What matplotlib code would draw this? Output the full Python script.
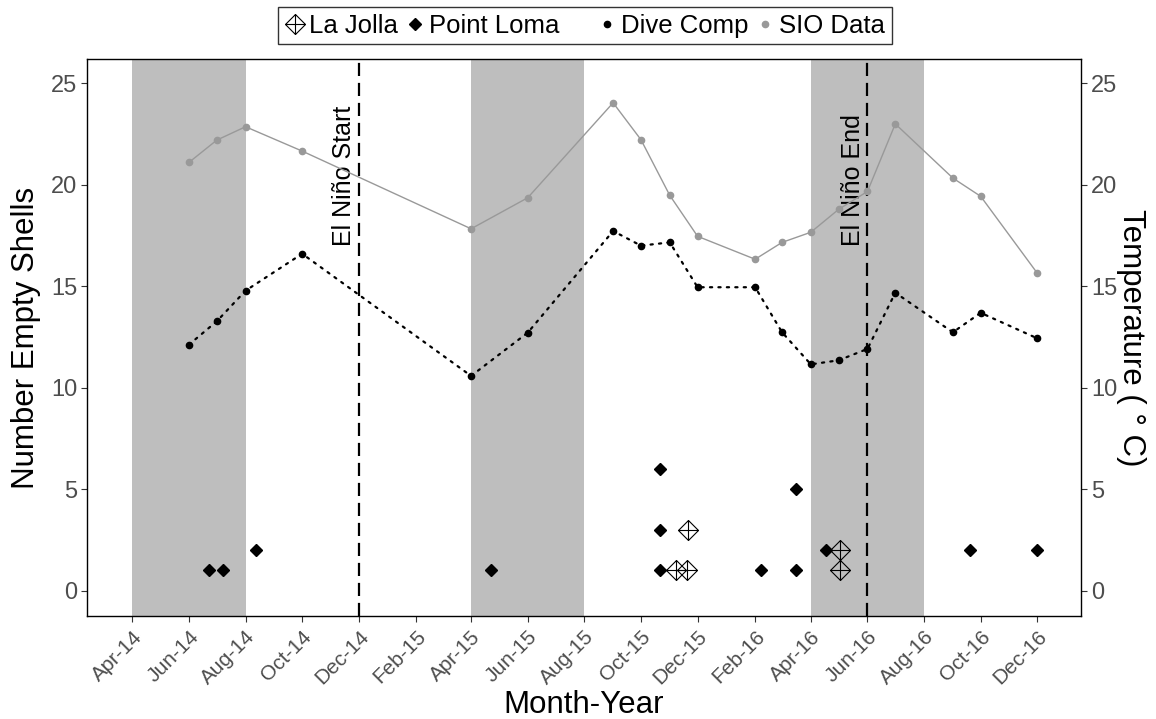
import numpy as np
import pandas as pd
import matplotlib
matplotlib.use("Agg")
import matplotlib.pyplot as plt
import matplotlib.dates as mdates
from matplotlib.path import Path
from matplotlib.lines import Line2D

plt.rcParams['font.family'] = ['Liberation Sans', 'DejaVu Sans']

# temperature series (monthly samples)
temp_dates = pd.to_datetime(['2014-06-01', '2014-07-01', '2014-08-01', '2014-10-01', '2015-04-01',
                             '2015-06-01', '2015-09-01', '2015-10-01', '2015-11-01', '2015-12-01',
                             '2016-02-01', '2016-03-01', '2016-04-01', '2016-05-01', '2016-06-01',
                             '2016-07-01', '2016-09-01', '2016-10-01', '2016-12-01'])
sio_temp = [21.10, 22.20, 22.86, 21.66, 17.83, 19.36, 24.04, 22.22, 19.48, 17.46,
            16.33, 17.16, 17.66, 18.79, 19.67, 23.00, 20.33, 19.43, 15.64]
dive_temp = [12.12, 13.27, 14.78, 16.60, 10.58, 12.71, 17.72, 17.00, 17.16, 14.95,
             14.95, 12.73, 11.15, 11.35, 11.91, 14.68, 12.73, 13.69, 12.43]

# empty shell counts
pl_dates = pd.to_datetime(['2014-06-23', '2014-07-08', '2014-08-12', '2015-04-22', '2015-10-22',
                           '2015-10-22', '2015-10-22', '2016-02-07', '2016-03-16', '2016-03-16',
                           '2016-04-17', '2016-09-19', '2016-12-01'])
pl_count = [1, 1, 2, 1, 6, 3, 1, 1, 5, 1, 2, 2, 2]
lj_dates = pd.to_datetime(['2015-11-08', '2015-11-20', '2015-11-21', '2016-05-02', '2016-05-02'])
lj_count = [1, 1, 3, 2, 1]

# shaded periods and El Nino markers
shade_start = pd.to_datetime(['2014-04-01', '2015-04-01', '2016-04-01'])
shade_end = pd.to_datetime(['2014-08-01', '2015-08-01', '2016-08-01'])
nino_dates = pd.to_datetime(['2014-12-01', '2016-06-01'])
nino_labels = ['El Niño Start', 'El Niño End']

tick_dates = pd.date_range('2014-04-01', '2016-12-01', freq='2MS')
tick_labels = [d.strftime('%b-%y') for d in tick_dates]

# diamond with a cross (R pch 9)
dplus = Path([(0, 1), (1, 0), (0, -1), (-1, 0), (0, 1), (0, 1), (0, -1), (-1, 0), (1, 0)],
             [Path.MOVETO, Path.LINETO, Path.LINETO, Path.LINETO, Path.CLOSEPOLY,
              Path.MOVETO, Path.LINETO, Path.MOVETO, Path.LINETO])

fig = plt.figure(figsize=(11.56, 7.19), dpi=100)
ax = fig.add_axes([0.0755, 0.1433, 0.8599, 0.7747])

for s, e in zip(shade_start, shade_end):
    ax.axvspan(s, e, color='#BEBEBE', lw=0, zorder=0)
for d, lab in zip(nino_dates, nino_labels):
    ax.axvline(d, color='black', lw=1.6, dashes=(5.9, 3.1), zorder=1)
    ax.text(d - pd.Timedelta(days=16), 17.0, lab, rotation=90, ha='center', va='bottom',
            fontsize=18, color='black')

ax.plot(pl_dates, pl_count, ls='none', marker='D', ms=6.6, color='black', zorder=3)
ax.plot(lj_dates, lj_count, ls='none', marker=dplus, ms=14.4, mfc='none', mec='black',
        mew=0.8, zorder=3)

ax.plot(temp_dates, sio_temp, color='#999999', lw=1.0, marker='o', ms=4.5, zorder=4)
ax.plot(temp_dates, dive_temp, color='black', lw=1.6, ls=(0, (1, 2.8)),
        dash_capstyle='round', zorder=4)
ax.plot(temp_dates, dive_temp, ls='none', color='black', marker='o', ms=4.5, zorder=4)

ax.set_xlim(mdates.date2num(pd.Timestamp('2014-02-11')) + 0.5,
            mdates.date2num(pd.Timestamp('2017-01-17')) + 0.4)
ax.set_ylim(-1.25, 26.2)
ax.set_xticks(tick_dates)
ax.set_xticklabels(tick_labels, rotation=45, ha='right', va='top', rotation_mode='anchor',
                   fontsize=15, color='#4D4D4D')
ax.set_yticks(range(0, 26, 5))
ax.tick_params(axis='y', labelsize=17, labelcolor='#4D4D4D', length=4, color='#333333',
               right=True, labelright=True, pad=3)
ax.tick_params(axis='x', length=4, color='#333333', pad=4)
for sp in ax.spines.values():
    sp.set_linewidth(1.0)
    sp.set_color('black')

fig.text(0.0225, 0.5306, 'Number Empty Shells', rotation=90, ha='center', va='center',
         fontsize=22.5)
fig.text(0.978, 0.5306, 'Temperature ( ° C)', rotation=270, ha='center', va='center',
         fontsize=22.5)
fig.text(0.505, 0.009, 'Month-Year', ha='center', va='baseline', fontsize=22.5)

handles = [
    Line2D([], [], ls='none', marker=dplus, ms=14.4, mfc='none', mec='black', mew=0.8),
    Line2D([], [], ls='none', marker='D', ms=6.6, color='black'),
    Line2D([], [], ls='none'),
    Line2D([], [], ls='none', marker='o', ms=4.5, color='black'),
    Line2D([], [], ls='none', marker='o', ms=4.5, color='#999999'),
]
labels = ['La Jolla', 'Point Loma', '', 'Dive Comp', 'SIO Data']
leg = fig.legend(handles, labels, ncol=5, loc='upper center', bbox_to_anchor=(0.506, 0.99),
                 fontsize=18.5, frameon=True, fancybox=False, edgecolor='black',
                 handlelength=0.8, handletextpad=0.15, columnspacing=0.25, borderpad=0.25,
                 borderaxespad=0)
leg.get_frame().set_linewidth(1.0)

fig.savefig('out.png', dpi=100)
